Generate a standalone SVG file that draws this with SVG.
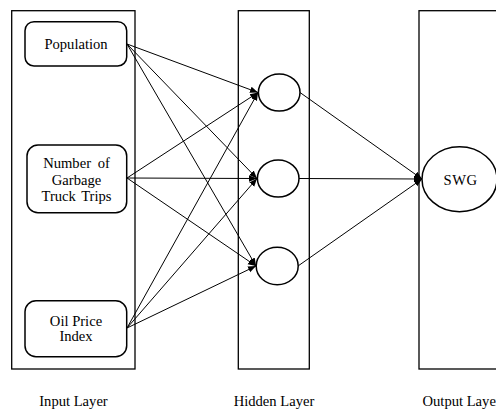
<svg xmlns="http://www.w3.org/2000/svg" width="496" height="410" viewBox="0 0 496 410">
  <style>
    .layer { fill: none; stroke: #000; stroke-width: 1.3; }
    .box { fill: #fff; stroke: #000; stroke-width: 1.5; }
    .neuron { fill: #fff; stroke: #000; stroke-width: 1.5; }
    .edge { fill: none; stroke: #000; stroke-width: 1; marker-end: url(#arrow); }
    text { font-family: "Liberation Serif", "Times New Roman", serif; font-size: 14.6px; fill: #000; text-anchor: middle; }
  </style>
  <defs>
    <marker id="arrow" viewBox="0 0 10 10" refX="10" refY="5" markerWidth="8" markerHeight="8" markerUnits="userSpaceOnUse" orient="auto">
      <path d="M0,1 L10,5 L0,9 z" fill="#000"/>
    </marker>
  </defs>
  <rect width="496" height="410" fill="#fff"/>

  <!-- layer frames -->
  <g id="layers">
    <rect class="layer" x="11.7" y="10.7" width="123.3" height="358.3"/>
    <rect class="layer" x="238.3" y="10.7" width="71" height="358.3"/>
    <rect class="layer" x="419" y="10.7" width="90" height="358.3"/>
  </g>

  <!-- connectors -->
  <g id="connectors">
    <line class="edge" x1="127" y1="44" x2="258" y2="92.5"/>
    <line class="edge" x1="127" y1="44" x2="257" y2="178.5"/>
    <line class="edge" x1="127" y1="44" x2="256" y2="266"/>
    <line class="edge" x1="127" y1="178" x2="258" y2="92.5"/>
    <line class="edge" x1="127" y1="178" x2="257" y2="178.5"/>
    <line class="edge" x1="127" y1="178" x2="256" y2="266"/>
    <line class="edge" x1="127" y1="328" x2="258" y2="92.5"/>
    <line class="edge" x1="127" y1="328" x2="257" y2="178.5"/>
    <line class="edge" x1="127" y1="328" x2="256" y2="266"/>
    <line class="edge" x1="300" y1="92.5" x2="422" y2="179"/>
    <line class="edge" x1="299" y1="178.5" x2="422" y2="179"/>
    <line class="edge" x1="298" y1="266" x2="422" y2="179"/>
  </g>

  <!-- input nodes -->
  <g id="population">
    <rect class="box" x="25" y="21.7" width="101.7" height="44.3" rx="9"/>
    <text x="76" y="49">Population</text>
  </g>
  <g id="garbage-trips">
    <rect class="box" x="27" y="145" width="99.7" height="67.7" rx="11"/>
    <text x="76.5" y="168" style="word-spacing:3px">Number of</text>
    <text x="76.5" y="184.5">Garbage</text>
    <text x="76.5" y="201" style="word-spacing:2px">Truck Trips</text>
  </g>
  <g id="oil-price">
    <rect class="box" x="25" y="300.7" width="101.7" height="56" rx="11"/>
    <text x="76" y="326">Oil Price</text>
    <text x="76" y="341">Index</text>
  </g>

  <!-- hidden nodes -->
  <g id="hidden-1">
    <ellipse class="neuron" cx="279.2" cy="92.5" rx="20.8" ry="18.5"/>
  </g>
  <g id="hidden-2">
    <ellipse class="neuron" cx="278.2" cy="178.5" rx="20.8" ry="18.5"/>
  </g>
  <g id="hidden-3">
    <ellipse class="neuron" cx="277.2" cy="266" rx="21" ry="18.8"/>
  </g>

  <!-- output node -->
  <g id="swg">
    <ellipse class="neuron" cx="459.5" cy="179.2" rx="37.5" ry="32.5"/>
    <text x="460.5" y="184.5" style="letter-spacing:0.5px">SWG</text>
  </g>

  <!-- layer captions -->
  <g id="captions">
    <text x="73.5" y="406">Input Layer</text>
    <text x="274" y="406">Hidden Layer</text>
    <text x="422.5" y="406" style="text-anchor:start">Output Layer</text>
  </g>
</svg>
